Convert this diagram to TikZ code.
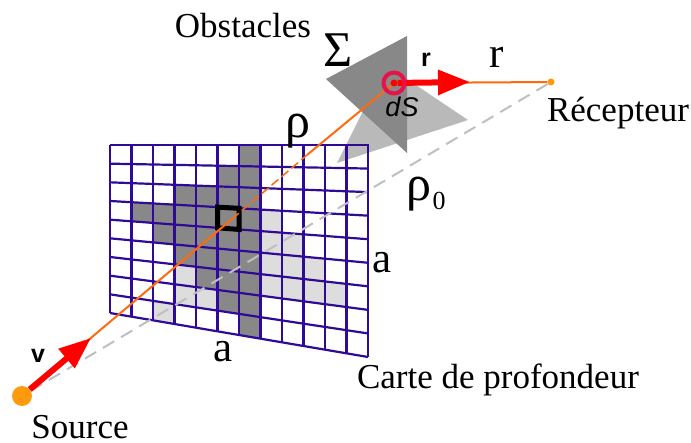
\documentclass[tikz,border=0pt]{standalone}
\usepackage{fontspec}
\setmainfont{Liberation Serif}
\setsansfont{Liberation Sans}
\usetikzlibrary{arrows.meta}
\definecolor{mapline}{HTML}{2F0A96}
\definecolor{darkcell}{HTML}{888888}
\definecolor{lightcell}{HTML}{DDDDDD}
\definecolor{raycolor}{HTML}{FF6A0D}
\definecolor{pointcolor}{HTML}{FF9A0D}
\definecolor{patchcolor}{HTML}{E8124A}
\newcommand{\mapcell}[3]{\fill[#1] (110+21.5*#2,{gridy(#2,#3)}) -- (110+21.5*#2+21.5,{gridy(#2+1,#3)})
  -- (110+21.5*#2+21.5,{gridy(#2+1,#3+1)}) -- (110+21.5*#2,{gridy(#2,#3+1)}) -- cycle;}
\begin{document}
\begin{tikzpicture}[x=1pt,y=-1pt,
  declare function={gridy(\i,\j)=145+\j/9*(168+44*\i/12);},
  every node/.style={font=\fontsize{35}{38}\selectfont,inner sep=0pt},
  biglabel/.style={font=\fontsize{43}{46}\selectfont},
  greeklabel/.style={font=\fontsize{50}{52}\selectfont},
  sanslabel/.style={font=\fontsize{25}{27}\selectfont\sffamily\bfseries},
  ray/.style={raycolor,line width=2pt},
  sightline/.style={gray!50,line width=2pt,dash pattern=on 13pt off 8pt},
  bigarrow/.style={red,line width=6pt,-{Triangle[length=32pt,width=24pt]}}]
\useasboundingbox (0,0) rectangle (691,443);
% obstacles
\fill[gray!55] (337,163) -- (468,120) -- (386,65) -- cycle;
\fill[darkcell] (407,36) -- (326,79) -- (407,153) -- cycle;
% depth map
\foreach \i/\j in {7/3,7/4,7/5,7/6,8/4,8/5,8/6,9/5,9/6,10/6,3/6,3/7,4/7,2/8}
  \mapcell{lightcell}{\i}{\j}
\foreach \i/\j in {1/3,2/3,2/4,3/2,3/3,3/4,3/5,4/2,4/3,4/4,4/5,4/6,
  5/1,5/2,5/3,5/4,5/5,5/6,5/7,6/0,6/1,6/2,6/3,6/4,6/5,6/6,6/7,6/8}
  \mapcell{darkcell}{\i}{\j}
\foreach \i in {0,...,12}
  \draw[mapline,line width=2.2pt] (110+21.5*\i,{gridy(\i,0)}) -- (110+21.5*\i,{gridy(\i,9)});
\foreach \j in {0,...,9}
  \draw[mapline,line width=2.2pt] (110,{gridy(0,\j)}) -- (368,{gridy(12,\j)});
\draw[black,line width=5pt] (110+21.5*5,{gridy(5,3)}) -- (110+21.5*6,{gridy(6,3)})
  -- (110+21.5*6,{gridy(6,4)}) -- (110+21.5*5,{gridy(5,4)}) -- cycle;
% points
\node[circle,fill=pointcolor,minimum size=20pt] (source) at (22,396) {};
\node[circle,fill=pointcolor,minimum size=7pt] (receiver) at (551,82) {};
\node[circle,fill=red,minimum size=7pt] (patch) at (394,83) {};
\coordinate (mapcentre) at (232,219);
\coordinate (mapedge) at (307,155);
\coordinate (vtip) at (91,338);
\coordinate (rtip) at (470,82);
% rays
\draw[sightline] (source) -- (receiver);
\draw[ray] (source) -- (mapcentre);
\draw[ray,line width=1.5pt,dash pattern=on 9pt off 4pt] (mapcentre) -- (mapedge);
\draw[ray] (mapedge) -- (patch);
\draw[ray] (patch) -- (receiver);
\draw[bigarrow] (source) -- (vtip);
\draw[bigarrow] (patch) -- (rtip);
\draw[patchcolor,line width=4pt] (patch) circle (10.5pt);
% labels
\node (obstacles) at (243,26) {Obstacles};
\node (receiverlabel) at (618,113) {Récepteur};
\node (sourcelabel) at (80,427) {Source};
\node (maplabel) at (498,380) {Carte de profondeur};
\node[greeklabel] (sigma) at (338,50) {Σ};
\node[greeklabel] (rho) at (298,131) {ρ};
\node[greeklabel] (rhozero) at (419,194) {ρ};
\node[font=\fontsize{26}{28}\selectfont] (zero) at (439,201) {0};
\node[biglabel] (sidea) at (382,263) {a};
\node[biglabel] (sideb) at (223,352) {a};
\node[biglabel] (rname) at (497,57) {r};
\node[sanslabel] (rbold) at (426,60) {r};
\node[sanslabel] (vbold) at (38,356) {v};
\node[font=\fontsize{27}{29}\selectfont\sffamily\itshape] (ds) at (402,107) {dS};
\end{tikzpicture}
\end{document}
